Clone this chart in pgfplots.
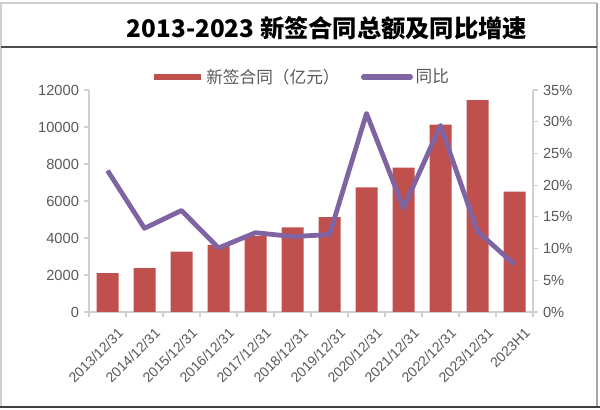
\documentclass[border=0pt]{standalone}
\usepackage{pgfplots}
\pgfplotsset{compat=1.18}
\usepackage{fontspec}
\setmainfont{Liberation Sans}
\newfontfamily\cjk{Noto Sans CJK SC}
\definecolor{barred}{HTML}{C0504D}
\definecolor{linepurple}{HTML}{8064A2}
\definecolor{txtgray}{HTML}{595959}
\definecolor{axgray}{HTML}{D0D0D0}
\begin{document}
\begin{tikzpicture}
\path[use as bounding box] (0,0) rectangle (450pt,307.5pt);
% frame
\draw[axgray, line width=0.8pt] (0.75pt,3pt) -- (0.75pt,305.25pt) -- (447.75pt,305.25pt);
\draw[gray!70, line width=0.8pt] (447.75pt,305.25pt) -- (447.75pt,3pt);
\draw[black!75, line width=1.6pt] (0pt,2.5pt) -- (450pt,2.5pt);
\draw[black!70, line width=1pt] (0.75pt,272.25pt) -- (447.75pt,272.25pt);
\node[font=\cjk\bfseries\fontsize{18.2}{21}\selectfont] at (245.25pt,286.5pt) {2013-2023 新签合同总额及同比增速};
\begin{axis}[
  at={(66.75pt,73.5pt)}, anchor=south west,
  scale only axis, width=333pt, height=166.5pt,
  xmin=-0.5, xmax=11.5, ymin=0, ymax=12000,
  axis y line*=left, axis x line*=bottom,
  axis line style={axgray, line width=0.8pt},
  xtick={0,...,11},
  xticklabels={2013/12/31,2014/12/31,2015/12/31,2016/12/31,2017/12/31,2018/12/31,2019/12/31,2020/12/31,2021/12/31,2022/12/31,2023/12/31,2023H1},
  major x tick style={draw=none},
  minor xtick={-0.5,0.5,...,11.5},
  minor tick length=4pt,
  minor x tick style={axgray, line width=0.8pt},
  xtick pos=bottom,
  ytick={0,2000,...,12000},
  ytick style={axgray, line width=0.8pt},
  tick align=outside,
  major tick length=4pt,
  scaled y ticks=false,
  /pgf/number format/assume math mode=true,
  /pgf/number format/set thousands separator={},
  yticklabel style={font=\fontsize{11}{13}\selectfont, text=txtgray},
  xticklabel style={font=\fontsize{10.5}{12}\selectfont, text=txtgray, rotate=45, anchor=north east, inner sep=1pt, yshift=-9pt, xshift=1pt},
  legend style={at={(0.13,1.0586)}, anchor=west, draw=none, fill=none,
     legend columns=2, font=\cjk\fontsize{12.5}{14}\selectfont, text=txtgray,
     /tikz/every even column/.append style={column sep=14pt}},
]
\addplot[ybar, bar width=16.5pt, fill=barred, draw=none,
  legend image code/.code={\draw[barred, line width=4.5pt] (0pt,0pt) -- (35pt,0pt);}]
  coordinates {(0,2100) (1,2370) (2,3260) (3,3620) (4,4100) (5,4570) (6,5130) (7,6730) (8,7810) (9,10130) (10,11450) (11,6500)};
\addlegendentry{新签合同（亿元）}
\addlegendimage{linepurple, line width=4pt, legend image code/.code={\draw[linepurple, line width=4pt, line cap=round] (0pt,0pt) -- (35pt,0pt);}}
\addlegendentry{同比}
\end{axis}
\begin{axis}[
  at={(66.75pt,73.5pt)}, anchor=south west,
  scale only axis, width=333pt, height=166.5pt,
  xmin=-0.5, xmax=11.5, ymin=0, ymax=35,
  axis y line*=right, axis x line=none,
  axis line style={axgray, line width=0.8pt},
  ytick={0,5,...,35},
  yticklabel={\pgfmathprintnumber{\tick}\%},
  ytick style={axgray, line width=0.8pt},
  tick align=outside, major tick length=4pt,
  /pgf/number format/assume math mode=true,
  yticklabel style={font=\fontsize{11}{13}\selectfont, text=txtgray},
]
\addplot[linepurple, line width=3.6pt, line join=round, mark=none]
  coordinates {(0,22.3) (1,13.2) (2,16.0) (3,10.1) (4,12.5) (5,11.9) (6,12.2) (7,31.3) (8,16.4) (9,29.4) (10,12.7) (11,7.5)};
\end{axis}
\end{tikzpicture}
\end{document}
